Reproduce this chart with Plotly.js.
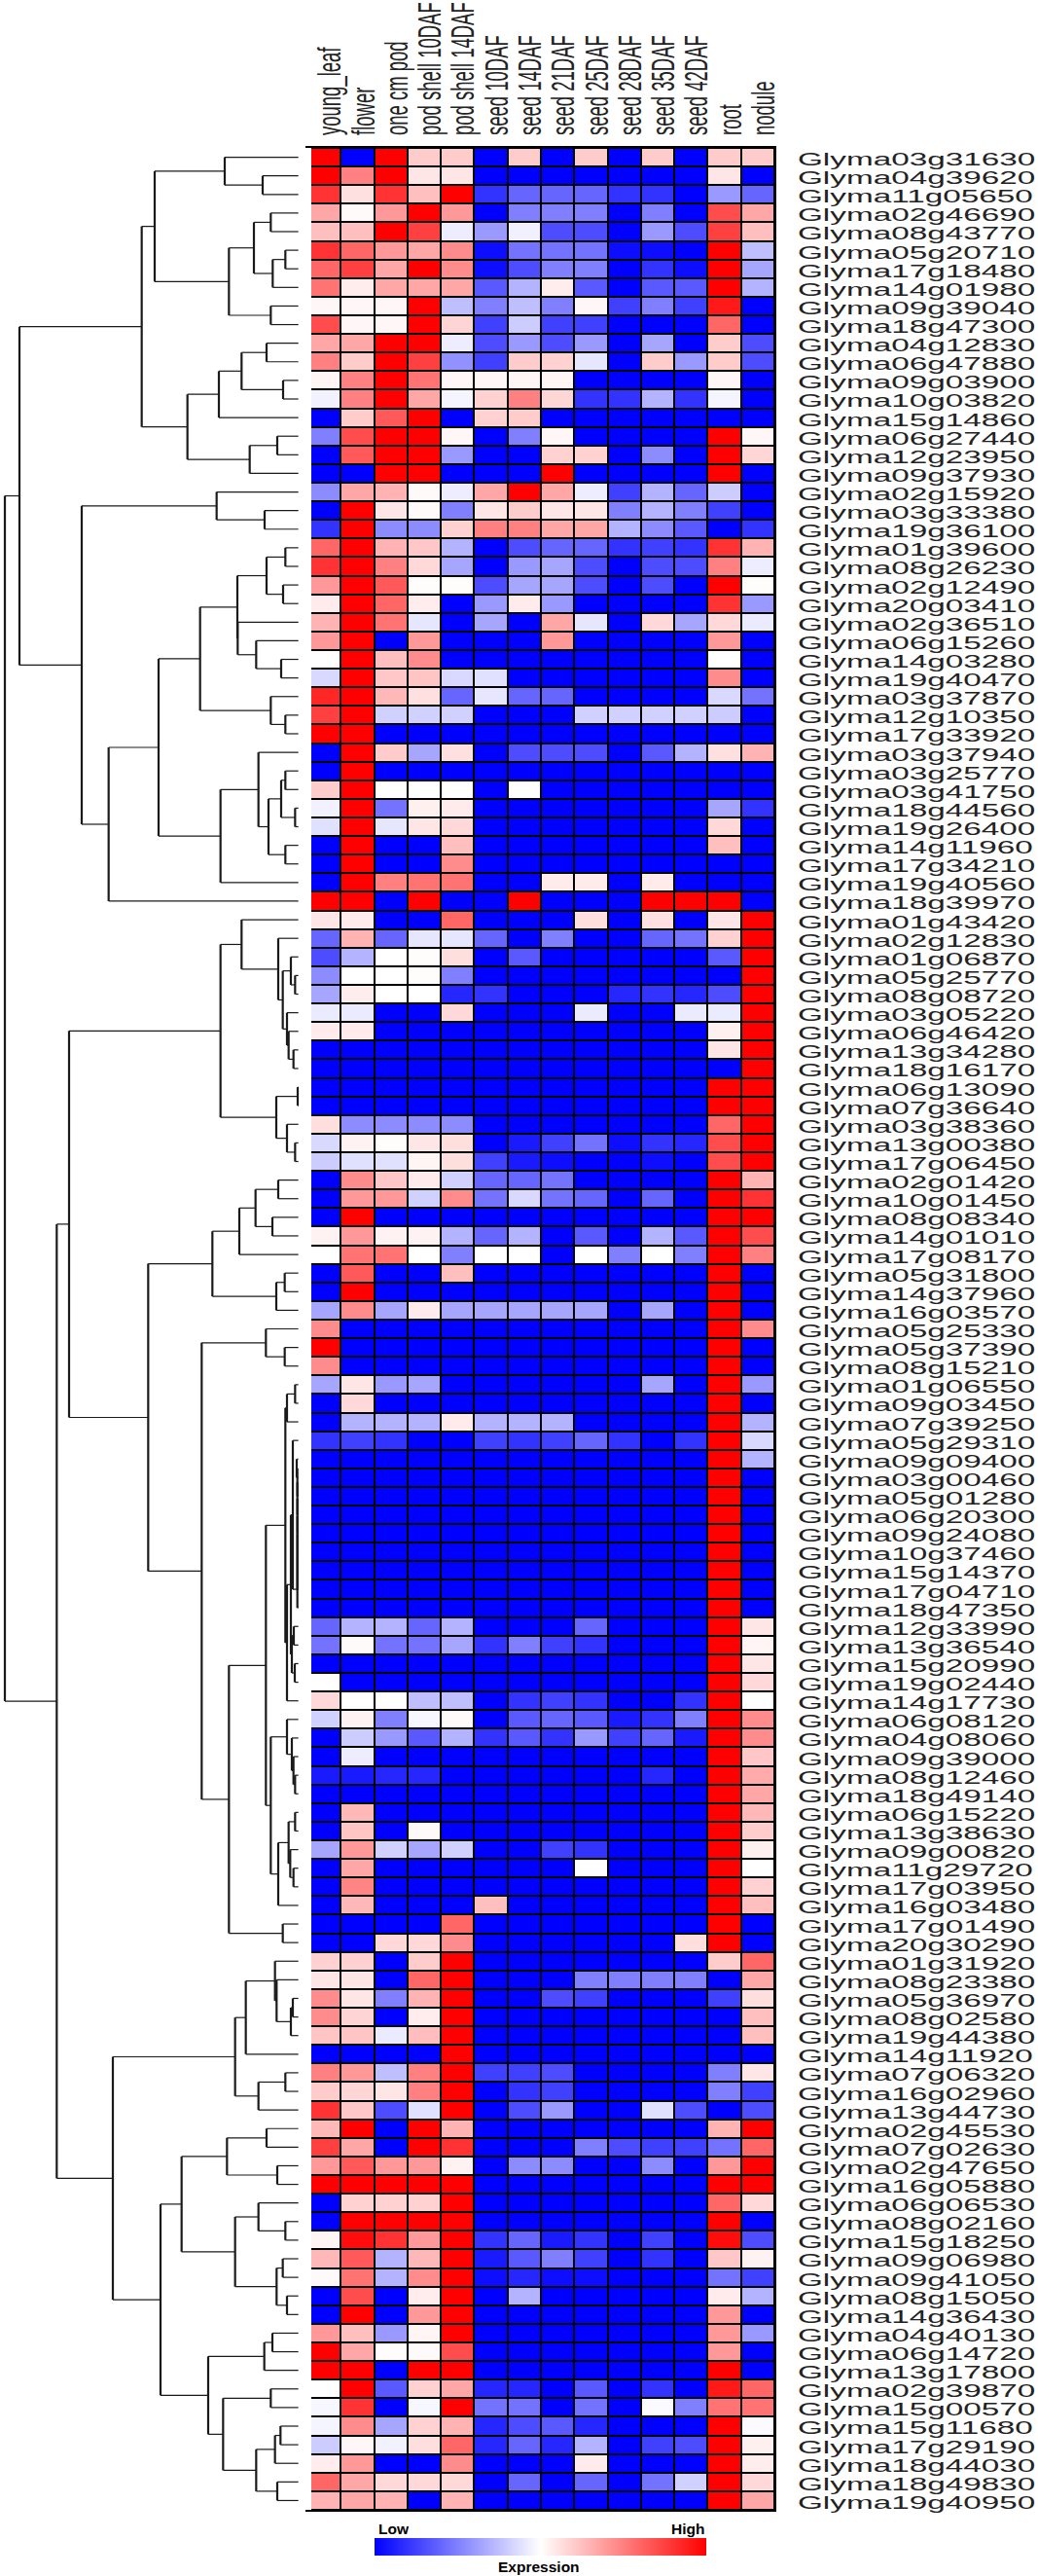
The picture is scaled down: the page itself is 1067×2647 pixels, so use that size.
<!DOCTYPE html>
<html>
<head>
<meta charset="utf-8">
<script src="https://cdn.plot.ly/plotly-3.0.1.min.js"></script>
<style>html,body{margin:0;padding:0;background:#fff}#chart{width:1067px;height:2647px}</style>
</head>
<body>
<div id="chart"></div>
<script>
var tissues = ["young_leaf","flower","one cm pod","pod shell 10DAF","pod shell 14DAF","seed 10DAF","seed 14DAF","seed 21DAF","seed 25DAF","seed 28DAF","seed 35DAF","seed 42DAF","root","nodule"];
var genes = ["Glyma03g31630","Glyma04g39620","Glyma11g05650","Glyma02g46690","Glyma08g43770","Glyma05g20710","Glyma17g18480","Glyma14g01980","Glyma09g39040","Glyma18g47300","Glyma04g12830","Glyma06g47880","Glyma09g03900","Glyma10g03820","Glyma15g14860","Glyma06g27440","Glyma12g23950","Glyma09g37930","Glyma02g15920","Glyma03g33380","Glyma19g36100","Glyma01g39600","Glyma08g26230","Glyma02g12490","Glyma20g03410","Glyma02g36510","Glyma06g15260","Glyma14g03280","Glyma19g40470","Glyma03g37870","Glyma12g10350","Glyma17g33920","Glyma03g37940","Glyma03g25770","Glyma03g41750","Glyma18g44560","Glyma19g26400","Glyma14g11960","Glyma17g34210","Glyma19g40560","Glyma18g39970","Glyma01g43420","Glyma02g12830","Glyma01g06870","Glyma05g25770","Glyma08g08720","Glyma03g05220","Glyma06g46420","Glyma13g34280","Glyma18g16170","Glyma06g13090","Glyma07g36640","Glyma03g38360","Glyma13g00380","Glyma17g06450","Glyma02g01420","Glyma10g01450","Glyma08g08340","Glyma14g01010","Glyma17g08170","Glyma05g31800","Glyma14g37960","Glyma16g03570","Glyma05g25330","Glyma05g37390","Glyma08g15210","Glyma01g06550","Glyma09g03450","Glyma07g39250","Glyma05g29310","Glyma09g09400","Glyma03g00460","Glyma05g01280","Glyma06g20300","Glyma09g24080","Glyma10g37460","Glyma15g14370","Glyma17g04710","Glyma18g47350","Glyma12g33990","Glyma13g36540","Glyma15g20990","Glyma19g02440","Glyma14g17730","Glyma06g08120","Glyma04g08060","Glyma09g39000","Glyma08g12460","Glyma18g49140","Glyma06g15220","Glyma13g38630","Glyma09g00820","Glyma11g29720","Glyma17g03950","Glyma16g03480","Glyma17g01490","Glyma20g30290","Glyma01g31920","Glyma08g23380","Glyma05g36970","Glyma08g02580","Glyma19g44380","Glyma14g11920","Glyma07g06320","Glyma16g02960","Glyma13g44730","Glyma02g45530","Glyma07g02630","Glyma02g47650","Glyma16g05880","Glyma06g06530","Glyma08g02160","Glyma15g18250","Glyma09g06980","Glyma09g41050","Glyma08g15050","Glyma14g36430","Glyma04g40130","Glyma06g14720","Glyma13g17800","Glyma02g39870","Glyma15g00570","Glyma15g11680","Glyma17g29190","Glyma18g44030","Glyma18g49830","Glyma19g40950"];
// expression: -10 lowest (blue) .. 0 middle (white) .. 10 highest (red)
var L = -10;
var expression = [
[10,L,10,2,2,L,2,L,2,L,2,L,2,2],
[10,5,10,1,1,L,L,L,L,L,L,L,1,L],
[8,1.2,8,2.5,10,-8,-6,-6,-6,-8,-8,L,-4,-6],
[3.5,.2,4,10,4,L,-5,-5,-5,L,-5,L,7,3.5],
[2.5,2.5,10,7.5,-.7,-4,-.6,-7,-7,L,-4,-7,7.5,2.5],
[8,6,4,3.5,4.5,-9.5,-5.5,-5.5,-5.5,-9.5,-9.5,L,10,-2.5],
[6,7.5,3.5,10,4.5,-9.5,-7,-5,-5,L,-8,-9.5,10,-3.5],
[5.5,.7,3.5,3.5,3.5,-6.5,-3,.7,-6.5,L,-6.5,-6.5,10,-3],
[.3,.3,.3,10,-2.5,-5,-2.5,-5,.3,-7.5,-5,-7.5,9,L],
[7,.3,.3,10,1.7,-7.5,-2,-7.5,-7.5,L,L,L,6,L],
[3.5,3.5,10,10,-.7,-7,-4,-7,-4,L,-3.5,L,2,-7],
[5,2,10,7.5,-4.3,-7.5,2,1.8,-1,L,2,-4,2,-7],
[.4,5,10,5.5,.3,.3,.4,.4,L,L,L,L,.3,L],
[-.5,5,10,3.5,-.4,1.8,5,1.6,-8,-8,-3,-8,-.4,L],
[L,2,6.5,10,L,1.8,2,L,L,L,L,L,L,L],
[-5,7,10,10,.3,L,-5,.3,L,L,L,L,10,.3],
[L,6.5,10,10,-4,L,L,1.8,1.8,L,-4.5,L,10,1.6],
[L,L,10,10,L,L,L,10,L,L,L,L,10,L],
[-4.5,3.5,3,.2,-.7,3.5,10,3.5,-.7,-7.5,-3,-6,-2,L],
[L,10,1,.2,-5,1,2,1,1,-5,-3,-5,-7.5,L],
[-8,10,-4.5,-4.5,1.8,5,5,3.5,3.5,-3,-4.5,-6.5,L,-8],
[6,10,3,2.2,-3,L,-7,-6,-6,-8,-7.5,-8,8,3],
[8,10,5,1.5,-3.5,L,-4,-3.5,-7,L,-7,-7,5,-.7],
[4,10,6.5,.1,.1,-7,-3.5,-3.5,-7,L,-7,L,10,.1],
[.8,10,6,.7,L,-4,.8,-4,L,L,L,L,8,-4],
[3,10,5.5,-1,L,-3.5,L,3.5,-1,L,1.5,-3.5,1.5,-.8],
[4,10,L,4,L,L,L,4,L,L,L,L,4,L],
[0,10,2.5,4.5,L,L,L,L,L,L,L,L,0,L],
[-1.5,10,2.2,2.3,-1.5,-1.2,L,L,L,L,L,L,4.5,L],
[8.5,10,2.8,1.2,-6,-1,-6,-6,L,L,L,L,-1.5,-5.5],
[7.5,10,-1.8,-1.8,-1.8,L,L,L,-1.8,-1.8,-1.8,-1.8,-2,L],
[10,10,L,L,L,L,L,L,L,L,L,L,L,L],
[L,10,2,-3.5,1.2,L,-7,-7,-7,L,-6.5,-3,1.2,3],
[L,10,L,L,L,L,L,L,L,L,L,L,L,L],
[2,10,0,0,0,L,0,L,L,L,L,L,L,L],
[-.5,10,-5.5,.6,.8,L,L,L,L,L,L,L,-3.5,-8],
[-1.2,10,-1,1,1.5,L,L,L,L,L,L,L,1.5,L],
[L,10,L,L,2.5,L,L,L,L,L,L,L,2.5,L],
[L,10,L,L,4.5,L,L,L,L,L,L,L,L,L],
[L,10,5,5.5,5.5,L,L,.8,.8,L,.8,L,L,L],
[10,10,L,10,L,L,10,L,L,L,10,10,10,L],
[1,.8,L,L,6,L,L,L,1.3,L,1.2,L,1,10],
[-6,3,-6,-1,-1,-6,L,-5,L,L,-6,-5.5,1.8,10],
[-7,-3,0,.1,1.3,L,-6.5,L,L,L,L,L,-6.5,10],
[-4.5,0,0,.1,-5,L,L,L,L,L,L,L,L,10],
[-3.5,.7,0,0,-8.5,-8,L,L,L,-8.5,-8,-8.5,-7,10],
[-.8,-.8,L,L,1.5,L,L,L,-.8,L,L,-.8,-.8,10],
[.8,.8,L,L,L,L,L,L,L,L,L,L,.6,10],
[L,L,L,L,L,L,L,L,L,L,L,L,1,10],
[L,L,L,L,L,L,L,L,L,L,L,L,L,10],
[L,L,L,L,L,L,L,L,L,L,L,L,10,10],
[L,L,L,L,L,L,L,L,L,L,L,L,10,10],
[1.3,-4.5,-4.5,-4.5,-4.5,L,L,L,L,L,L,L,6,10],
[-1.5,.5,.1,1,1.3,L,-9,-7.5,-5.5,-9.5,-8,-8.5,7,10],
[-2,-1.2,-1.2,.4,1.3,-7.5,-9,-9.5,L,L,-9.5,L,7,10],
[L,4.5,2.2,.8,-1.8,-6,-6,-5.5,L,L,L,L,10,3],
[L,4,4,-1.8,4.5,-5.5,-1.5,-5.5,-6,L,-6,L,10,8],
[L,10,L,L,L,L,L,L,L,L,L,L,10,10],
[.5,4,.5,.5,-3,-6,-3,L,-6.5,L,-3,-6.5,10,7],
[0,5.5,5.5,0,-5,0,0,L,0,-5,0,-5,10,5],
[L,6.5,L,L,2.5,L,L,L,L,L,L,L,10,L],
[L,10,L,L,L,L,L,L,L,L,L,L,10,L],
[-3.5,4.5,-3.5,.8,-3.5,-3.5,-3.5,-3.5,-3.5,L,-3.5,L,10,L],
[4.5,L,L,L,L,L,L,L,L,L,L,L,10,4.5],
[10,L,L,L,L,L,L,L,L,L,L,L,10,L],
[4.5,L,L,L,L,L,L,L,L,L,L,L,10,L],
[-3.5,1,-4,-3.5,L,L,L,L,L,L,-3.5,L,10,-4],
[L,1.5,L,L,L,L,L,L,L,L,L,L,10,L],
[L,-3,-3,-3,.8,-3,-3,-3,L,L,L,L,10,-3],
[-8,-7.5,-8,L,L,-7.5,-8,-7.5,-6,-8,L,-8,10,-1.5],
[L,L,L,L,L,L,L,L,L,L,L,L,10,-3],
[L,L,L,L,L,L,L,L,L,L,L,L,10,L],
[L,L,L,L,L,L,L,L,L,L,L,L,10,L],
[L,L,L,L,L,L,L,L,L,L,L,L,10,L],
[L,L,L,L,L,L,L,L,L,L,L,L,10,L],
[L,L,L,L,L,L,L,L,L,L,L,L,10,L],
[L,L,L,L,L,L,L,L,L,L,L,L,10,L],
[L,L,L,L,L,L,L,L,L,L,L,L,10,L],
[L,L,L,L,L,L,L,L,L,L,L,L,10,L],
[-6,-3,-3,-6,-3,L,L,L,-6,L,L,L,10,1],
[-5.5,.2,-5.5,-5.5,-3.5,-8,-5,-7.5,-8,L,L,L,10,.4],
[L,L,L,L,L,L,L,L,L,L,L,L,10,1],
[0,L,L,L,L,L,L,L,L,L,L,L,10,1.5],
[1.5,0,0,-2.5,-2.5,L,-8,-7.5,-8,L,L,-8,10,0],
[-1.8,.5,-5,-.3,.2,L,-6.5,-6,-6.5,-9,-8,-5,10,4.5],
[L,-2,-4,-6.5,-3,-8,-6.5,-8,-4,-7.5,-6,-9,10,4.5],
[L,-.7,L,L,L,L,L,L,L,L,L,L,10,2.2],
[-9,-9,-8.5,-8.5,L,L,L,L,L,L,-8.5,L,10,3.3],
[L,L,L,L,L,L,L,L,L,L,L,L,10,3.5],
[L,2.8,L,L,L,L,L,L,L,L,L,L,10,2.8],
[L,2.3,L,.2,L,L,L,L,L,L,L,L,10,2],
[-3.5,4,-1.8,-3.5,-1.8,L,L,-7.5,-8,L,L,L,10,.6],
[L,3.5,L,L,L,L,L,L,0,L,L,L,10,0],
[L,4.8,L,L,L,L,L,L,L,L,L,L,10,1.8],
[L,2.8,L,L,L,2.5,L,L,L,L,L,L,10,2.5],
[L,L,L,L,6,L,L,L,L,L,L,L,10,L],
[L,L,1.5,1.5,4.5,L,L,L,L,L,L,1.3,10,L],
[1.8,1.8,L,2,10,L,L,L,L,L,L,L,2,6],
[1,1,L,6,10,L,L,L,-5,-5,-5,-5,L,3.5],
[4.5,1,-5,3,10,L,L,-7,-7.5,L,L,L,-7.5,1.3],
[4.5,1.7,L,.7,10,L,L,L,L,L,L,L,L,2.5],
[2.3,2.3,-.8,2.6,10,L,L,L,L,L,L,L,L,2.5],
[L,L,L,L,10,L,L,L,L,L,L,L,L,L],
[5,4,-2.5,5,10,-7.5,-7.5,-7,L,L,L,L,-5,1],
[2,1.6,1,5,10,L,-8,-7.5,L,L,L,L,-5,-7.5],
[8,2.2,-7,-1.2,10,L,-7,-4,L,L,-1.2,-7,L,-7],
[2.8,10,L,10,3,L,L,L,L,L,L,L,3,10],
[7.5,3.5,L,10,8,L,L,L,-5,-7,-7.5,-7.5,-5.5,6],
[4,6.5,4,4,.5,L,-4.5,-4.5,L,L,-4.5,L,4,10],
[10,10,10,10,10,L,L,L,L,L,L,L,10,10],
[L,1.8,1.8,1.8,10,L,L,L,L,L,L,L,6,1.5],
[L,10,10,10,10,L,L,L,L,L,L,L,10,L],
[.4,9.5,8,4,10,-8,-6,-9,-8,L,-7.5,L,9.5,-7],
[2.8,6.5,-3,2.8,10,-9,-6.5,-5,-7.5,L,-8,L,2.2,.5],
[.2,5.5,-3,4.5,10,-9.5,-8.5,-9.5,-9.5,L,L,L,-5.5,-7.5],
[L,7,L,.7,10,L,-3,L,L,L,L,L,.8,-3],
[L,10,L,4,10,L,L,L,L,L,L,L,4,L],
[4,2.5,-4,.4,10,L,L,L,L,L,L,L,4,-4],
[10,3.5,.1,.2,7,L,L,L,L,L,L,L,4,L],
[10,10,L,10,10,L,L,L,L,L,L,L,10,L],
[0,10,-6.5,1.8,3.5,-8.5,-8.5,L,-6.5,L,-8,L,9,6],
[-.3,8,L,-.3,10,-5.5,-5.5,L,-5.5,L,-.2,-5,5.5,5.5],
[-.4,4.5,-3.5,1.8,3,-8.5,-7,-6.5,-8.5,L,L,L,10,-.2],
[-2,.3,-.5,1.3,6,-8.5,-6,-8.5,-3,L,-7.5,-7,10,.6],
[.7,4,L,L,4.5,L,L,L,.8,L,L,L,10,.7],
[6,3.5,1.5,1.5,1.5,L,-6,L,-6,L,-5.5,-1.8,10,1.5],
[3,3.5,3,L,3,L,L,L,L,L,L,L,10,3.5]
];

// dendrogram: [merge position, child, child]; a plain number is a 1-based gene row
var clusterA1 = [477,[693,1,[810,2,3]],[706,[783,[835,4,5],[841,[880,6,7],8]],[835,9,10]]];
var clusterA2 = [578,[675,[745,[822,11,12],[873,13,14]],15],[770,[855,16,17],18]];
var clusterB1 = [617,[732,[822,[880,22,23],[873,24,25]],[733,26,[790,27,[867,28,29]]]],[835,30,[880,31,32]]];
var clusterB2 = [680,[797,33,[828,[867,[880,34,35],[910,36,37]],[880,38,39]]],40];
var clusterB = [252,[668,19,[816,20,21]],[335,[489,clusterB1,clusterB2],41]];
var clusterTop = [60,[437,clusterA1,clusterA2],clusterB];
var clusterC1 = [680,[745,42,[858,43,[872,[897,44,[910,45,46]],[885,47,[890,48,[905,49,50]]]]]],[852,[918,51,52],[885,53,[910,54,55]]]];
var clusterC2 = [655,[738,[788,[858,56,57],[840,58,59]],60],[852,[878,61,62],63]];
var rootGroup = [917,[917,[917,[917,[917,[917,[917,[915,71,72],73],74],75],76],77],78],79];
var clusterD1 = [880,[885,[910,67,68],69],[885,[897,[903,70,rootGroup],[900,[906,80,81],[909,82,83]]],84]];
var clusterD2 = [835,[885,85,[900,86,[905,87,[910,88,89]]]],[858,[890,[910,90,91],[895,92,[905,93,94]]],95]];
var clusterD = [622,[820,64,[878,65,66]],[706,[820,clusterD1,clusterD2],[872,96,97]]];
var clusterE1 = [725,[758,[848,98,[853,99,[897,[903,100,101],102]]],103],[797,[880,104,105],106]];
var clusterE2 = [560,[700,[822,107,108],[855,109,110]],[725,[797,111,[880,112,113]],[853,[872,114,115],[885,116,117]]]];
var clusterE3 = [642,[815,[840,118,119],120],[688,[835,121,122],[790,[848,[865,123,124],125],[855,126,127]]]];
var clusterE = [348,clusterE1,[495,clusterE2,clusterE3]];
var dendrogram = [15,clusterTop,[175,[213,clusterC1,[457,clusterC2,clusterD]],clusterE]];
var leafEnd = 920;

var hx=[],hy=[],vx=[],vy=[];
function walk(n){
  if(typeof n==='number') return {x:leafEnd,y:n-1};
  var a=walk(n[1]), b=walk(n[2]), x=n[0];
  hx.push(x,a.x,null,x,b.x,null); hy.push(a.y,a.y,null,b.y,b.y,null);
  vx.push(x,x,null); vy.push(a.y,b.y,null);
  return {x:x,y:(a.y+b.y)/2};
}
walk(dendrogram);

var W=1067,H=2647;
var traces=[
 {type:'heatmap',x:tissues,y:genes,z:expression,zmin:-10,zmax:10,xgap:2,ygap:2,hoverongaps:false,
  colorscale:[[0,'#0000ff'],[.5,'#ffffff'],[1,'#ff0000']],
  colorbar:{orientation:'h',x:555.5/W,xanchor:'center',y:1-2608/H,yanchor:'top',len:341,lenmode:'pixels',
    thickness:18,thicknessmode:'pixels',xpad:0,ypad:0,outlinewidth:0,borderwidth:0,ticks:'',showticklabels:false}},
 {type:'scatter',mode:'lines',x:hx,y:hy,xaxis:'x2',yaxis:'y2',line:{color:'#1a1a1a',width:1.2},hoverinfo:'skip',showlegend:false},
 {type:'scatter',mode:'lines',x:vx,y:vy,xaxis:'x2',yaxis:'y2',line:{color:'#1a1a1a',width:2.2},hoverinfo:'skip',showlegend:false}
];
var font='"Liberation Sans",Arial,sans-serif';
var legendFont={family:font,size:15.5,color:'#000',weight:700};
var layout={
 width:W,height:H,autosize:false,showlegend:false,
 margin:{l:0,r:0,t:0,b:0,pad:0,autoexpand:false},
 paper_bgcolor:'#fff',plot_bgcolor:'#fff',
 font:{family:font,color:'#111'},
 shapes:[{type:'rect',xref:'paper',yref:'paper',x0:316/W,x1:796/W,y0:1-2579/H,y1:1-152/H,fillcolor:'#000',line:{width:0},layer:'below'}],
 xaxis:{domain:[316/W,796/W],side:'top',type:'category',tickangle:-90,ticks:'',showgrid:false,zeroline:false,
   showline:true,mirror:true,linecolor:'#000',linewidth:2,tickfont:{family:font,size:18.5,color:'#222'},anchor:'y'},
 yaxis:{domain:[1-2579/H,1-152/H],side:'right',type:'category',autorange:'reversed',ticks:'',showgrid:false,zeroline:false,
   showline:true,mirror:true,linecolor:'#000',linewidth:2,tickfont:{family:font,size:18.5,color:'#222'},dtick:1,anchor:'x'},
 xaxis2:{domain:[0,320/W],range:[0,960],visible:false,fixedrange:true,anchor:'y2'},
 yaxis2:{domain:[1-2579/H,1-152/H],range:[126.5,-0.5],visible:false,fixedrange:true,anchor:'x2'},
 annotations:[
  {text:'Low',xref:'paper',yref:'paper',x:387/W,y:1-2598/H,xanchor:'left',yanchor:'middle',showarrow:false,font:legendFont},
  {text:'High',xref:'paper',yref:'paper',x:726/W,y:1-2598/H,xanchor:'right',yanchor:'middle',showarrow:false,font:legendFont},
  {text:'Expression',xref:'paper',yref:'paper',x:554/W,y:1-2637/H,xanchor:'center',yanchor:'middle',showarrow:false,font:legendFont}
 ]
};
var stretch=1.8, labelLeft=820, labelDy=2, columnBottom=139, columnDx=6;
function place(sel,fn){
  document.querySelectorAll(sel).forEach(function(t){
    var r=t.getBoundingClientRect(), tr=t.getAttribute('transform')||'', m=fn(r);
    t.setAttribute('transform','translate('+(m.ax+m.dx)+','+m.dy+') scale('+stretch+',1) translate('+(-m.ax)+',0) '+tr);
  });
}
Plotly.newPlot('chart',traces,layout,{staticPlot:true,displayModeBar:false}).then(function(){
  place('#chart .xtick text',function(r){ return {ax:(r.left+r.right)/2,dx:columnDx,dy:columnBottom-r.bottom}; });
  place('#chart .ytick text',function(r){ return {ax:r.left,dx:labelLeft-r.left,dy:labelDy}; });
});
</script>
</body>
</html>
